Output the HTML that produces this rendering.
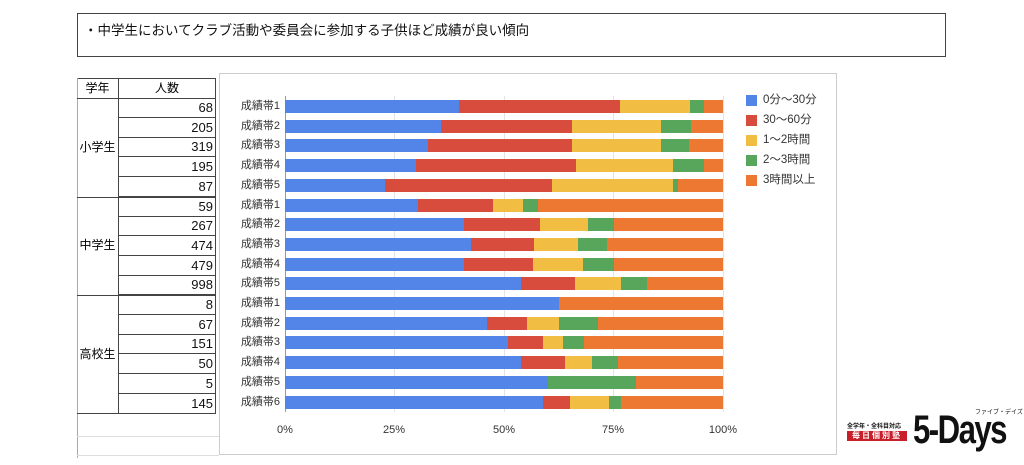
<!DOCTYPE html><html><head><meta charset="utf-8"><style>
body{margin:0;width:1024px;height:465px;background:#fff;position:relative;overflow:hidden;font-family:"Liberation Sans","Noto Sans CJK JP",sans-serif;}
div{position:absolute;box-sizing:border-box}
.t{border:1px solid #444}
.n{font-size:13px;text-align:right;padding-right:3px;line-height:19px;color:#111}
.l{font-size:11px;color:#333;width:60px;text-align:right;left:220px;line-height:13px}
.b{height:13px}
.B{background:#5384e8}.R{background:#d84c3e}.Y{background:#f1bd42}.G{background:#58a55c}.O{background:#ec7831}
.ax{font-size:11px;color:#333;top:424px;width:40px;text-align:center}
.gl{width:1px;background:#e4e4e4;top:96px;height:316px}
.lg{left:746px;width:11px;height:11px}
.lt{left:763px;font-size:11.5px;color:#333;line-height:12px}
</style></head><body>
<div class="t" style="left:77px;top:13px;width:869px;height:44px;padding:5px 6px;font-size:13.5px;color:#111">・中学生においてクラブ活動や委員会に参加する子供ほど成績が良い傾向</div>
<div style="left:77px;top:78px;width:139px;height:1px;background:#444"></div>
<div style="left:77px;top:78px;width:41px;height:20px;font-size:12px;text-align:center;line-height:20px">学年</div>
<div style="left:118px;top:78px;width:98px;height:20px;font-size:12px;text-align:center;line-height:20px">人数</div>
<div style="left:118px;top:78px;width:1px;height:335px;background:#444"></div>
<div style="left:215px;top:78px;width:1px;height:335px;background:#444"></div>
<div style="left:77px;top:78px;width:1px;height:380px;background:#aaa"></div>
<div style="left:77px;top:98px;width:139px;height:1px;background:#444"></div>
<div style="left:77px;top:197px;width:139px;height:1px;background:#444"></div>
<div style="left:77px;top:295px;width:139px;height:1px;background:#444"></div>
<div style="left:77px;top:413px;width:139px;height:1px;background:#444"></div>
<div style="left:77px;top:436px;width:142px;height:1px;background:#ddd"></div>
<div style="left:77px;top:455px;width:142px;height:1px;background:#ddd"></div>
<div style="left:77px;top:138px;width:41px;font-size:12px;text-align:center">小学生</div>
<div style="left:77px;top:236px;width:41px;font-size:12px;text-align:center">中学生</div>
<div style="left:77px;top:345px;width:41px;font-size:12px;text-align:center">高校生</div>
<div style="left:118px;top:98px;width:98px;height:316px">
<div class="n" style="top:0;width:98px;height:20px;border-bottom:1px solid #444">68</div>
<div class="n" style="top:19.7px;width:98px;height:20px;border-bottom:1px solid #444">205</div>
<div class="n" style="top:39.4px;width:98px;height:20px;border-bottom:1px solid #444">319</div>
<div class="n" style="top:59.1px;width:98px;height:20px;border-bottom:1px solid #444">195</div>
<div class="n" style="top:78.8px;width:98px;height:20px;border-bottom:1px solid #444">87</div>
<div class="n" style="top:98.5px;width:98px;height:20px;border-bottom:1px solid #444">59</div>
<div class="n" style="top:118.2px;width:98px;height:20px;border-bottom:1px solid #444">267</div>
<div class="n" style="top:137.9px;width:98px;height:20px;border-bottom:1px solid #444">474</div>
<div class="n" style="top:157.6px;width:98px;height:20px;border-bottom:1px solid #444">479</div>
<div class="n" style="top:177.3px;width:98px;height:20px;border-bottom:1px solid #444">998</div>
<div class="n" style="top:197px;width:98px;height:20px;border-bottom:1px solid #444">8</div>
<div class="n" style="top:216.7px;width:98px;height:20px;border-bottom:1px solid #444">67</div>
<div class="n" style="top:236.4px;width:98px;height:20px;border-bottom:1px solid #444">151</div>
<div class="n" style="top:256.1px;width:98px;height:20px;border-bottom:1px solid #444">50</div>
<div class="n" style="top:275.8px;width:98px;height:20px;border-bottom:1px solid #444">5</div>
<div class="n" style="top:295.5px;width:98px;height:20px">145</div>
</div>
<div style="left:219px;top:73px;width:618px;height:382px;border:1px solid #ccc"></div>
<div class="gl" style="left:285px;background:#999"></div><div class="gl" style="left:394px"></div><div class="gl" style="left:504px"></div><div class="gl" style="left:613px"></div><div class="gl" style="left:723px"></div>

<div class="l" style="top:100px">成績帯1</div><div class="b B" style="top:100px;left:285px;width:174px"></div><div class="b R" style="top:100px;left:459px;width:161px"></div><div class="b Y" style="top:100px;left:620px;width:70px"></div><div class="b G" style="top:100px;left:690px;width:14px"></div><div class="b O" style="top:100px;left:704px;width:19px"></div>
<div class="l" style="top:119.7px">成績帯2</div><div class="b B" style="top:119.7px;left:285px;width:156px"></div><div class="b R" style="top:119.7px;left:441px;width:131px"></div><div class="b Y" style="top:119.7px;left:572px;width:89px"></div><div class="b G" style="top:119.7px;left:661px;width:30px"></div><div class="b O" style="top:119.7px;left:691px;width:32px"></div>
<div class="l" style="top:139.4px">成績帯3</div><div class="b B" style="top:139.4px;left:285px;width:143px"></div><div class="b R" style="top:139.4px;left:428px;width:144px"></div><div class="b Y" style="top:139.4px;left:572px;width:89px"></div><div class="b G" style="top:139.4px;left:661px;width:28px"></div><div class="b O" style="top:139.4px;left:689px;width:34px"></div>
<div class="l" style="top:159.1px">成績帯4</div><div class="b B" style="top:159.1px;left:285px;width:131px"></div><div class="b R" style="top:159.1px;left:416px;width:160px"></div><div class="b Y" style="top:159.1px;left:576px;width:97px"></div><div class="b G" style="top:159.1px;left:673px;width:31px"></div><div class="b O" style="top:159.1px;left:704px;width:19px"></div>
<div class="l" style="top:178.8px">成績帯5</div><div class="b B" style="top:178.8px;left:285px;width:100px"></div><div class="b R" style="top:178.8px;left:385px;width:167px"></div><div class="b Y" style="top:178.8px;left:552px;width:121px"></div><div class="b G" style="top:178.8px;left:673px;width:5px"></div><div class="b O" style="top:178.8px;left:678px;width:45px"></div>
<div class="l" style="top:198.5px">成績帯1</div><div class="b B" style="top:198.5px;left:285px;width:133px"></div><div class="b R" style="top:198.5px;left:418px;width:75px"></div><div class="b Y" style="top:198.5px;left:493px;width:30px"></div><div class="b G" style="top:198.5px;left:523px;width:15px"></div><div class="b O" style="top:198.5px;left:538px;width:185px"></div>
<div class="l" style="top:218.2px">成績帯2</div><div class="b B" style="top:218.2px;left:285px;width:179px"></div><div class="b R" style="top:218.2px;left:464px;width:76px"></div><div class="b Y" style="top:218.2px;left:540px;width:48px"></div><div class="b G" style="top:218.2px;left:588px;width:26px"></div><div class="b O" style="top:218.2px;left:614px;width:109px"></div>
<div class="l" style="top:237.9px">成績帯3</div><div class="b B" style="top:237.9px;left:285px;width:186px"></div><div class="b R" style="top:237.9px;left:471px;width:63px"></div><div class="b Y" style="top:237.9px;left:534px;width:44px"></div><div class="b G" style="top:237.9px;left:578px;width:29px"></div><div class="b O" style="top:237.9px;left:607px;width:116px"></div>
<div class="l" style="top:257.6px">成績帯4</div><div class="b B" style="top:257.6px;left:285px;width:179px"></div><div class="b R" style="top:257.6px;left:464px;width:69px"></div><div class="b Y" style="top:257.6px;left:533px;width:50px"></div><div class="b G" style="top:257.6px;left:583px;width:31px"></div><div class="b O" style="top:257.6px;left:614px;width:109px"></div>
<div class="l" style="top:277.3px">成績帯5</div><div class="b B" style="top:277.3px;left:285px;width:236px"></div><div class="b R" style="top:277.3px;left:521px;width:54px"></div><div class="b Y" style="top:277.3px;left:575px;width:46px"></div><div class="b G" style="top:277.3px;left:621px;width:26px"></div><div class="b O" style="top:277.3px;left:647px;width:76px"></div>
<div class="l" style="top:297px">成績帯1</div><div class="b B" style="top:297px;left:285px;width:274px"></div><div class="b O" style="top:297px;left:559px;width:164px"></div>
<div class="l" style="top:316.7px">成績帯2</div><div class="b B" style="top:316.7px;left:285px;width:202px"></div><div class="b R" style="top:316.7px;left:487px;width:40px"></div><div class="b Y" style="top:316.7px;left:527px;width:32px"></div><div class="b G" style="top:316.7px;left:559px;width:39px"></div><div class="b O" style="top:316.7px;left:598px;width:125px"></div>
<div class="l" style="top:336.4px">成績帯3</div><div class="b B" style="top:336.4px;left:285px;width:223px"></div><div class="b R" style="top:336.4px;left:508px;width:35px"></div><div class="b Y" style="top:336.4px;left:543px;width:20px"></div><div class="b G" style="top:336.4px;left:563px;width:21px"></div><div class="b O" style="top:336.4px;left:584px;width:139px"></div>
<div class="l" style="top:356.1px">成績帯4</div><div class="b B" style="top:356.1px;left:285px;width:236px"></div><div class="b R" style="top:356.1px;left:521px;width:44px"></div><div class="b Y" style="top:356.1px;left:565px;width:27px"></div><div class="b G" style="top:356.1px;left:592px;width:26px"></div><div class="b O" style="top:356.1px;left:618px;width:105px"></div>
<div class="l" style="top:375.8px">成績帯5</div><div class="b B" style="top:375.8px;left:285px;width:263px"></div><div class="b G" style="top:375.8px;left:548px;width:88px"></div><div class="b O" style="top:375.8px;left:636px;width:87px"></div>
<div class="l" style="top:395.5px">成績帯6</div><div class="b B" style="top:395.5px;left:285px;width:258px"></div><div class="b R" style="top:395.5px;left:543px;width:27px"></div><div class="b Y" style="top:395.5px;left:570px;width:39px"></div><div class="b G" style="top:395.5px;left:609px;width:12px"></div><div class="b O" style="top:395.5px;left:621px;width:102px"></div>

<div class="ax" style="left:265px">0%</div><div class="ax" style="left:374px">25%</div><div class="ax" style="left:484px">50%</div><div class="ax" style="left:593px">75%</div><div class="ax" style="left:703px">100%</div>

<div class="lg B" style="top:95px"></div><div class="lt" style="top:94px">0分～30分</div>
<div class="lg R" style="top:115px"></div><div class="lt" style="top:114px">30～60分</div>
<div class="lg Y" style="top:135px"></div><div class="lt" style="top:134px">1～2時間</div>
<div class="lg G" style="top:155px"></div><div class="lt" style="top:154px">2～3時間</div>
<div class="lg O" style="top:175px"></div><div class="lt" style="top:174px">3時間以上</div>

<div style="left:847px;top:421px;width:60px;font-size:6px;font-weight:bold;color:#111;white-space:nowrap;overflow:hidden">全学年・全科目対応</div>
<div style="left:847px;top:431px;width:60px;height:10px;background:#c8202a;color:#fff;font-size:8px;line-height:10px;text-align:center;font-weight:bold;letter-spacing:2px">毎日個別塾</div>
<div style="left:913px;top:410px;font-size:40px;font-weight:bold;color:#111;letter-spacing:-2px;line-height:40px;transform:scaleX(0.78);transform-origin:left;white-space:nowrap">5-Days</div>
<div style="left:975px;top:407px;font-size:6px;color:#111;white-space:nowrap">ファイブ・デイズ</div>
</body></html>
